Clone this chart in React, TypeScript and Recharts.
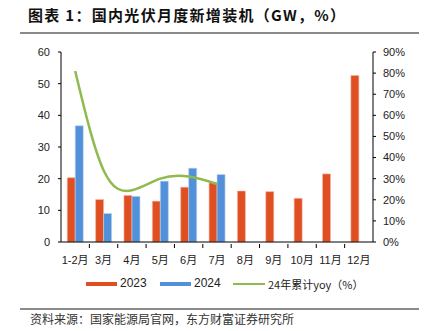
import { ComposedChart, Bar, Line, XAxis, YAxis } from 'recharts';

const months = ['1-2月', '3月', '4月', '5月', '6月', '7月', '8月', '9月', '10月', '11月', '12月'];
const install2023 = [20.3, 13.4, 14.7, 12.9, 17.3, 18.7, 16.1, 15.9, 13.8, 21.5, 52.6];
const install2024 = [36.7, 9.0, 14.4, 19.2, 23.3, 21.3, null, null, null, null, null];
const yoy2024 = [81, 34, 24.5, 30, 31, 27.5, null, null, null, null, null];
const leftTicks = [0, 10, 20, 30, 40, 50, 60];
const rightTicks = [0, 10, 20, 30, 40, 50, 60, 70, 80, 90];

const data = months.map((m, i) => ({
  month: m,
  y2023: install2023[i],
  y2024: install2024[i],
  yoy: yoy2024[i],
}));

const RED = '#DF4F21';
const BLUE = '#5290D9';
const GREEN = '#8FBB4E';
const FONT = '"Liberation Sans", Arial, "Noto Sans CJK SC", sans-serif';
const CJK = '"Noto Sans CJK SC", sans-serif';

const PLOT_LEFT = 61;
const PLOT_RIGHT = 373;
const BAND = (PLOT_RIGHT - PLOT_LEFT) / months.length;

const MonthTick = (props: any) => {
  const { x, y, payload, index } = props;
  return (
    <g>
      {index < months.length - 1 && (
        <line x1={x + BAND / 2} x2={x + BAND / 2} y1={y} y2={y + 4} stroke="#000" />
      )}
      <text x={x} y={y + 20} textAnchor="middle" fontSize={11} fill="#222" fontFamily={FONT}>
        {payload.value}
      </text>
    </g>
  );
};

export default function App() {
  return (
    <div style={{ position: 'absolute', left: 0, top: 0, width: 434, height: 331, background: '#fff' }}>
      <div
        style={{
          position: 'absolute', left: 28, top: 4, fontFamily: CJK, fontWeight: 700,
          fontSize: 15, color: '#111', whiteSpace: 'nowrap', letterSpacing: 1.3,
        }}
      >
        图表 1：国内光伏月度新增装机（GW，%）
      </div>
      <div style={{ position: 'absolute', left: 20, top: 32, width: 399, height: 2, background: '#8a8a8a' }} />

      <ComposedChart
        width={434}
        height={331}
        data={data}
        margin={{ top: 52, right: 0, left: 0, bottom: 59 }}
        barCategoryGap="22%"
        barGap={0}
      >
        <XAxis
          dataKey="month"
          tick={<MonthTick />}
          tickLine={false}
          tickSize={0}
          height={30}
          interval={0}
          stroke="#000"
        />
        <YAxis
          yAxisId="left"
          domain={[0, 60]}
          ticks={leftTicks}
          width={61}
          tickSize={3}
          tickMargin={8}
          stroke="#000"
          tick={{ fontSize: 11, fill: '#222', fontFamily: FONT }}
        />
        <YAxis
          yAxisId="right"
          orientation="right"
          domain={[0, 90]}
          ticks={rightTicks}
          width={61}
          tickSize={3}
          tickMargin={7}
          stroke="#000"
          tickFormatter={(v: number) => `${v}%`}
          tick={{ fontSize: 11, fill: '#222', fontFamily: FONT }}
        />
        <Bar yAxisId="left" dataKey="y2023" fill={RED} stroke="#F4B9A6" strokeWidth={0.6} isAnimationActive={false} />
        <Bar yAxisId="left" dataKey="y2024" fill={BLUE} stroke="#B9D3F0" strokeWidth={0.6} isAnimationActive={false} />
        <Line
          yAxisId="right"
          type="natural"
          dataKey="yoy"
          stroke={GREEN}
          strokeWidth={2.5}
          dot={false}
          connectNulls={false}
          isAnimationActive={false}
        />
      </ComposedChart>

      <div style={{ position: 'absolute', left: 86, top: 282, width: 31, height: 4, background: RED }} />
      <div style={{ position: 'absolute', left: 120, top: 276, fontFamily: FONT, fontSize: 12, color: '#222' }}>2023</div>
      <div style={{ position: 'absolute', left: 160, top: 282, width: 31, height: 4, background: BLUE }} />
      <div style={{ position: 'absolute', left: 194, top: 276, fontFamily: FONT, fontSize: 12, color: '#222' }}>2024</div>
      <div style={{ position: 'absolute', left: 233, top: 283, width: 32, height: 2, background: GREEN }} />
      <div style={{ position: 'absolute', left: 268, top: 277, fontFamily: CJK, fontSize: 11, color: '#222', whiteSpace: 'nowrap', lineHeight: '14px' }}>
        24年累计yoy（%）
      </div>

      <div style={{ position: 'absolute', left: 20, top: 308, width: 399, height: 1.5, background: '#8a8a8a' }} />
      <div style={{ position: 'absolute', left: 30, top: 310, fontFamily: CJK, fontSize: 12, color: '#333', whiteSpace: 'nowrap' }}>
        资料来源：国家能源局官网，东方财富证券研究所
      </div>
    </div>
  );
}
